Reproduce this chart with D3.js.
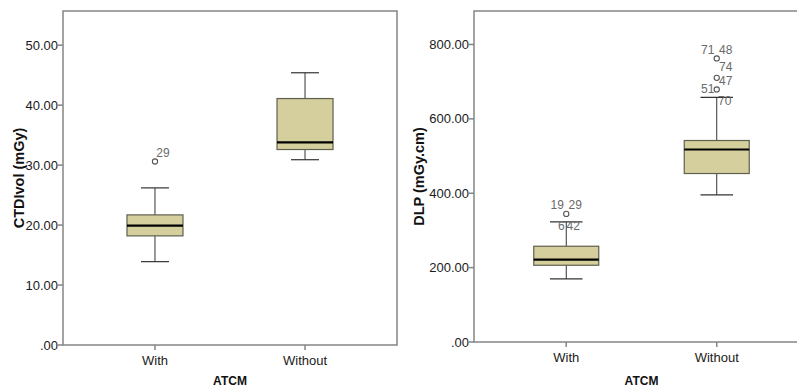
<!DOCTYPE html>
<html lang="en">
<head>
<meta charset="UTF-8">
<title>CTDIvol and DLP by ATCM</title>
<style>
  body { margin: 0; background: #fff; }
  svg { display: block; }
  .tick-label, .cat-label { font-family: "Liberation Sans Narrow", "Arial Narrow", "Liberation Sans", sans-serif; font-size: 13px; fill: #1a1a1a; }
  .out-label { font-family: "Liberation Sans Narrow", "Arial Narrow", "Liberation Sans", sans-serif; font-size: 12px; fill: #6a6a6a; }
  .title { font-family: "Liberation Sans", Arial, sans-serif; font-weight: bold; fill: #111; }
</style>
</head>
<body>
<svg id="chart" width="797" height="387"></svg>
<script src="https://cdn.jsdelivr.net/npm/d3@7"></script>
<script>
// data
const categories = ["With", "Without"];

// CTDIvol (mGy)
const ctdiLow = [13.9, 30.9];
const ctdiQ1 = [18.2, 32.6];
const ctdiMedian = [19.9, 33.8];
const ctdiQ3 = [21.7, 41.1];
const ctdiHigh = [26.2, 45.4];
const ctdiOutliers = [
  { cat: "With", value: 30.6, labels: ["29"] }
];
const ctdiTicks = [0, 10, 20, 30, 40, 50];
const ctdiTickLabels = [".00", "10.00", "20.00", "30.00", "40.00", "50.00"];

// DLP (mGy.cm)
const dlpLow = [169.5, 395.5];
const dlpQ1 = [206.4, 453.0];
const dlpMedian = [221.7, 517.6];
const dlpQ3 = [257.5, 541.8];
const dlpHigh = [322.9, 657.5];
const dlpOutliers = [
  { cat: "With", value: 344.4, labels: ["19", "29", "6", "42"] },
  { cat: "Without", value: 762.4, labels: ["71", "48", "74"] },
  { cat: "Without", value: 710.3, labels: ["47"] },
  { cat: "Without", value: 679.0, labels: ["51", "70"] }
];
const dlpTicks = [0, 200, 400, 600, 800];
const dlpTickLabels = [".00", "200.00", "400.00", "600.00", "800.00"];

// where SPSS put each case label relative to its circle
const labelOffsets = {
  "29a": [8, -9],
  "19": [-9, -9], "29": [9, -9], "6": [-5, 12], "42": [7, 12],
  "71": [-9, -9], "48": [9, -9], "74": [9, 8],
  "47": [9, 3],
  "51": [-9, -1], "70": [8, 11]
};

const svg = d3.select("#chart");

function drawPanel(p) {
  const g = svg.append("g");
  const x = d3.scalePoint().domain(categories).range([p.left, p.right]).padding(0.613);
  const y = d3.scaleLinear().domain(p.yDomain).range([p.bottom, p.top]);

  // frame
  g.append("rect")
    .attr("x", p.left).attr("y", p.top)
    .attr("width", p.right - p.left).attr("height", p.bottom - p.top)
    .attr("fill", "none").attr("stroke", "#858585").attr("stroke-width", 1.5);

  // y ticks
  p.ticks.forEach((t, i) => {
    g.append("line")
      .attr("x1", p.left - 5).attr("x2", p.left)
      .attr("y1", y(t)).attr("y2", y(t))
      .attr("stroke", "#858585").attr("stroke-width", 1.5);
    g.append("text").attr("class", "tick-label")
      .attr("x", p.left - 5).attr("y", y(t))
      .attr("dy", "0.35em").attr("text-anchor", "end")
      .text(p.tickLabels[i]);
  });

  // x ticks
  categories.forEach(c => {
    g.append("line")
      .attr("x1", x(c)).attr("x2", x(c))
      .attr("y1", p.bottom).attr("y2", p.bottom + 5)
      .attr("stroke", "#858585").attr("stroke-width", 1.5);
    g.append("text").attr("class", "cat-label")
      .attr("x", x(c)).attr("y", p.bottom + 20)
      .attr("text-anchor", "middle")
      .text(c);
  });

  // boxes
  const bw = p.boxWidth, cw = p.boxWidth / 2;
  categories.forEach((c, i) => {
    const cx = x(c);
    g.append("line")
      .attr("x1", cx).attr("x2", cx)
      .attr("y1", y(p.low[i])).attr("y2", y(p.high[i]))
      .attr("stroke", "#333").attr("stroke-width", 1);
    [p.low[i], p.high[i]].forEach(v => {
      g.append("line")
        .attr("x1", cx - cw / 2).attr("x2", cx + cw / 2)
        .attr("y1", y(v)).attr("y2", y(v))
        .attr("stroke", "#333").attr("stroke-width", 1.2);
    });
    g.append("rect")
      .attr("x", cx - bw / 2).attr("y", y(p.q3[i]))
      .attr("width", bw).attr("height", y(p.q1[i]) - y(p.q3[i]))
      .attr("fill", "#d4cf9c").attr("stroke", "#5f5f52").attr("stroke-width", 1.2);
    g.append("line")
      .attr("x1", cx - bw / 2).attr("x2", cx + bw / 2)
      .attr("y1", y(p.median[i])).attr("y2", y(p.median[i]))
      .attr("stroke", "#000").attr("stroke-width", 2.2);
  });

  // outliers
  p.outliers.forEach(o => {
    const cx = x(o.cat), cy = y(o.value);
    g.append("circle")
      .attr("cx", cx).attr("cy", cy).attr("r", 2.6)
      .attr("fill", "#fff").attr("stroke", "#555").attr("stroke-width", 1.1);
    o.labels.forEach(l => {
      const key = p.single ? l + "a" : l;
      const off = labelOffsets[key];
      g.append("text").attr("class", "out-label")
        .attr("x", cx + off[0]).attr("y", cy + off[1])
        .attr("dy", "0.35em").attr("text-anchor", "middle")
        .text(l);
    });
  });

  // titles
  const midY = (p.top + p.bottom) / 2;
  g.append("text").attr("class", "title")
    .attr("transform", `translate(${p.titleX},${midY}) rotate(-90)`)
    .attr("text-anchor", "middle").attr("dy", "0.35em")
    .style("font-size", "14.5px")
    .text(p.yTitle);
  g.append("text").attr("class", "title")
    .attr("x", (p.left + p.right) / 2).attr("y", 385)
    .attr("text-anchor", "middle")
    .style("font-size", "12px")
    .text("ATCM");
}

drawPanel({
  left: 63, right: 397, top: 11, bottom: 345,
  yDomain: [0, 55.7], ticks: ctdiTicks, tickLabels: ctdiTickLabels,
  low: ctdiLow, q1: ctdiQ1, median: ctdiMedian, q3: ctdiQ3, high: ctdiHigh,
  outliers: ctdiOutliers, boxWidth: 56, titleX: 19, single: true,
  yTitle: "CTDIvol (mGy)"
});

drawPanel({
  left: 474, right: 809, top: 11, bottom: 342,
  yDomain: [0, 890], ticks: dlpTicks, tickLabels: dlpTickLabels,
  low: dlpLow, q1: dlpQ1, median: dlpMedian, q3: dlpQ3, high: dlpHigh,
  outliers: dlpOutliers, boxWidth: 65, titleX: 419, single: false,
  yTitle: "DLP (mGy.cm)"
});
</script>
</body>
</html>
